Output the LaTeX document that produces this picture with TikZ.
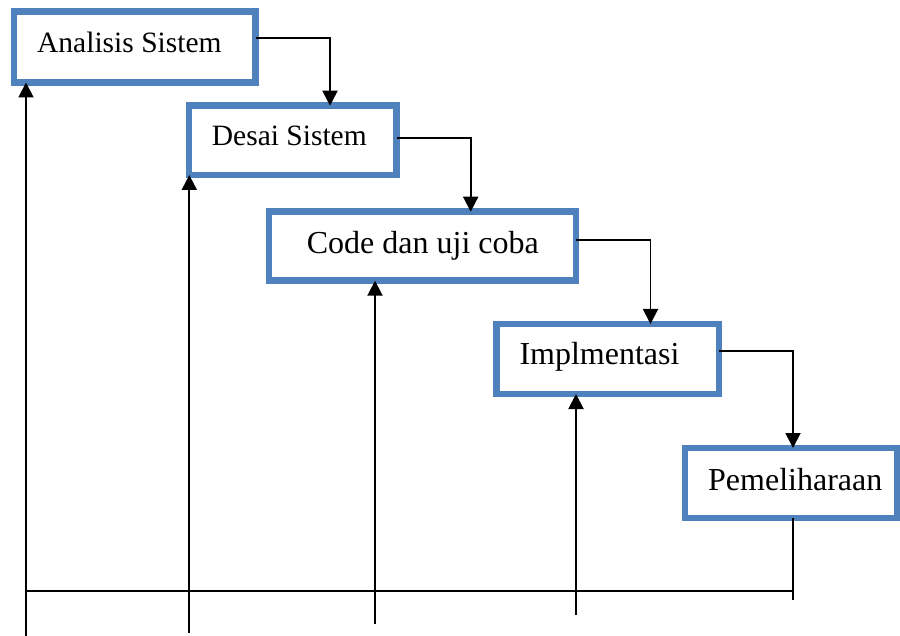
\documentclass[tikz,border=0pt]{standalone}
\usepackage{fontspec}
\setmainfont{Liberation Serif}
\usetikzlibrary{arrows.meta}
\definecolor{boxblue}{RGB}{79,129,189}
\begin{document}
\begin{tikzpicture}[x=1pt,y=-1pt,
  stagebox/.style={draw=boxblue,line width=6.5pt,fill=white,inner sep=0pt,outer sep=0pt},
  lbl/.style={anchor=base west,inner sep=0pt,font=\fontsize{29.5}{34}\selectfont},
  lblb/.style={anchor=base west,inner sep=0pt,font=\fontsize{32}{37}\selectfont},
  conn/.style={draw=black,line width=1.9pt},
  arr/.style={conn,-{Triangle[length=15pt,width=15pt]}}]
\useasboundingbox (0,0) rectangle (900,636);
% boxes
\node[stagebox,minimum width=241.5pt,minimum height=71pt] (b1) at (134.75,47) {};
\node[stagebox,minimum width=207.5pt,minimum height=69.3pt] (b2) at (292.75,140.35) {};
\node[stagebox,minimum width=307pt,minimum height=69pt] (b3) at (422.5,246.2) {};
\node[stagebox,minimum width=222.3pt,minimum height=70pt] (b4) at (607.85,359) {};
\node[stagebox,minimum width=212pt,minimum height=70pt] (b5) at (791,483) {};
% texts
\node[lbl] (t1) at (37,53) {Analisis Sistem};
\node[lbl] (t2) at (211.7,145.7) {Desai Sistem};
\node[lblb] (t3) at (306.7,253.3) {Code dan uji coba};
\node[lblb] (t4) at (519.3,365) {Implmentasi};
\node[lblb] (t5) at (708,490.7) {Pemeliharaan};
% down connectors
\draw[arr] ([yshift=9.3pt]b1.east) -| ([xshift=37.25pt]b2.north);
\draw[arr] ([yshift=2pt]b2.east) -| ([xshift=48.2pt]b3.north);
\draw[arr] ([yshift=6.2pt]b3.east) -| ([xshift=42.65pt]b4.north);
\draw[arr] ([yshift=8pt]b4.east) -| ([xshift=2pt]b5.north);
% feedback lines
\coordinate (f1) at (26,636);
\coordinate (f2) at (189.3,633);
\coordinate (f3) at (375,624);
\coordinate (f4) at (576,615);
\coordinate (f5) at (793,600);
\coordinate (hl) at (26,591);
\coordinate (hr) at (793,591);
\draw[arr] (f1) -- ([xshift=-108.75pt]b1.south);
\draw[arr] (f2) -- ([xshift=-103.45pt]b2.south);
\draw[arr] (f3) -- ([xshift=-47.5pt]b3.south);
\draw[arr] (f4) -- ([xshift=-31.85pt]b4.south);
\draw[conn] ([xshift=2pt]b5.south) -- (f5);
\draw[conn] (hl) -- (hr);
\end{tikzpicture}
\end{document}
